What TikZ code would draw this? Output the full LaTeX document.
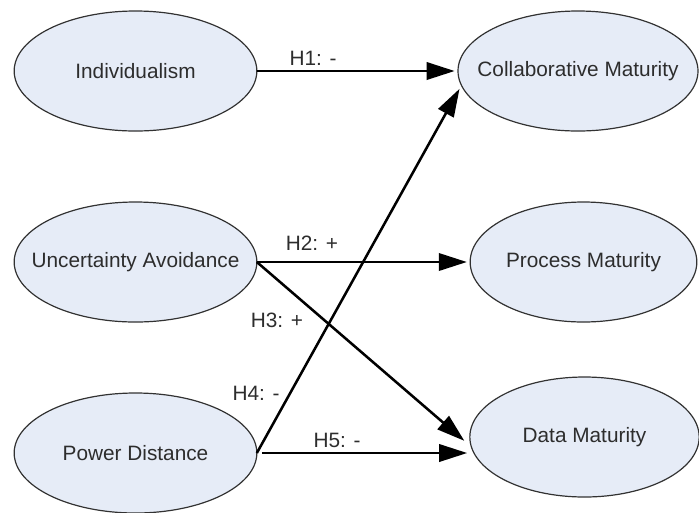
\documentclass[tikz,border=0pt]{standalone}
\usepackage{fontspec}
\setmainfont{Liberation Sans}
\usetikzlibrary{shapes.geometric,arrows.meta}
\definecolor{ovalfill}{RGB}{230,236,247}
\definecolor{ovalline}{RGB}{50,50,50}
\definecolor{txtgray}{RGB}{45,45,45}
\tikzset{every picture/.style={line width=0.75pt}}
\tikzset{
  construct/.style={ellipse, draw=ovalline, fill=ovalfill, line width=0.9pt, inner xsep=-20pt, inner ysep=0pt, outer sep=0pt, minimum height=90pt, text=txtgray, font=\fontsize{15.6}{18}\selectfont},
  hypo/.style={draw=black, line width=1.9pt, -{Triangle[length=21pt,width=13pt]}},
  hlabel/.style={inner sep=0.75pt, text=txtgray, font=\fontsize{15.6}{18}\selectfont}
}

\begin{document}
\begin{tikzpicture}[x=0.75pt,y=0.75pt,yscale=-1,xscale=1]
\useasboundingbox (0,0) rectangle (699,512);
%Shape: Ellipse 
\node [construct, minimum width=182pt] (indiv) at (135.5,71) {Individualism};
%Shape: Ellipse 
\node [construct, minimum width=182pt] (uncert) at (135.5,262) {Uncertainty Avoidance};
%Shape: Ellipse 
\node [construct, minimum width=182pt] (power) at (135.5,453) {Power Distance};
%Shape: Ellipse 
\node [construct, minimum width=180pt] (collab) at (578,71) {Collaborative Maturity};
%Shape: Ellipse 
\node [construct, minimum width=170pt] (process) at (583.5,262) {Process Maturity};
%Shape: Ellipse 
\node [construct, minimum width=172pt] (data) at (584.5,437) {Data Maturity};
%Straight Lines 
\draw [hypo, shorten >=2.5pt] (indiv.east) -- (collab.west) ;
%Straight Lines 
\draw [hypo, shorten >=2.5pt] (uncert.east) -- (process.west) ;
%Straight Lines 
\draw [hypo, shorten >=7pt] (uncert.east) -- (data.185) ;
%Straight Lines 
\draw [hypo, shorten >=3pt] (power.east) -- (collab.187) ;
%Straight Lines 
\draw [hypo, shorten <=3.75pt, shorten >=2pt] (power.east) -- (power.east -| data.west) ;
% Text Node
\node [hlabel] (h1) at (313,58) {H1: -};
% Text Node
\node [hlabel] (h2) at (312,243) {H2: +};
% Text Node
\node [hlabel] (h3) at (277,320) {H3: +};
% Text Node
\node [hlabel] (h4) at (256,393) {H4: -};
% Text Node
\node [hlabel] (h5) at (337,440) {H5: -};
\end{tikzpicture}
\end{document}
